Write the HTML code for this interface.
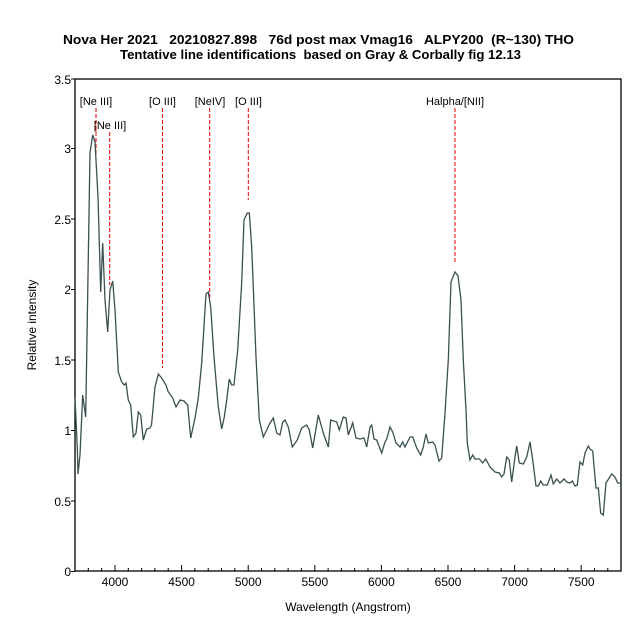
<!DOCTYPE html>
<html><head><meta charset="utf-8"><style>
html,body{margin:0;padding:0;background:#fff;}
svg{display:block;font-family:"Liberation Sans",sans-serif;}
.t{white-space:pre;}
</style></head><body>
<svg width="640" height="640" viewBox="0 0 640 640" xmlns="http://www.w3.org/2000/svg">
<rect width="640" height="640" fill="#fff"/>
<text class="t" xml:space="preserve" x="63" y="44" font-size="13" font-weight="bold" textLength="511" lengthAdjust="spacingAndGlyphs">Nova Her 2021   20210827.898   76d post max Vmag16   ALPY200  (R~130) THO</text>
<text class="t" xml:space="preserve" x="120" y="59" font-size="13" font-weight="bold" textLength="401" lengthAdjust="spacingAndGlyphs">Tentative line identifications  based on Gray &amp; Corbally fig 12.13</text>
<rect x="75" y="79" width="546" height="492" fill="none" stroke="#000" stroke-width="1.3"/>
<g stroke="#000" stroke-width="1">
<path d="M75 571.5h-4M75 501h-4M75 430.5h-4M75 360h-4M75 289.5h-4M75 219h-4M75 148.5h-4M75 79h-4"/>
<path d="M115 571v-6M181.6 571v-6M248.2 571v-6M314.8 571v-6M381.4 571v-6M448 571v-6M514.6 571v-6M581.2 571v-6"/>
<path d="M88.3 571v-3M101.6 571v-3M128.3 571v-3M141.6 571v-3M154.9 571v-3M168.2 571v-3M194.9 571v-3M208.2 571v-3M221.5 571v-3M234.8 571v-3M261.5 571v-3M274.8 571v-3M288.1 571v-3M301.4 571v-3M328.1 571v-3M341.4 571v-3M354.7 571v-3M368 571v-3M394.7 571v-3M408 571v-3M421.3 571v-3M434.6 571v-3M461.3 571v-3M474.6 571v-3M487.9 571v-3M501.2 571v-3M527.9 571v-3M541.2 571v-3M554.5 571v-3M567.8 571v-3M594.5 571v-3M607.8 571v-3"/>
</g>
<g font-size="12" text-anchor="end" fill="#000">
<text x="71" y="576">0</text><text x="71" y="506">0.5</text><text x="71" y="435">1</text><text x="71" y="365">1.5</text><text x="71" y="294">2</text><text x="71" y="224">2.5</text><text x="71" y="153">3</text><text x="71" y="84">3.5</text>
</g>
<g font-size="12" text-anchor="middle" fill="#000">
<text x="115" y="586">4000</text><text x="181.6" y="586">4500</text><text x="248.2" y="586">5000</text><text x="314.8" y="586">5500</text><text x="381.4" y="586">6000</text><text x="448" y="586">6500</text><text x="514.6" y="586">7000</text><text x="581.2" y="586">7500</text>
<text x="348" y="611">Wavelength (Angstrom)</text>
</g>
<text transform="translate(36 325) rotate(-90)" font-size="12" text-anchor="middle">Relative intensity</text>
<g stroke="#e00" stroke-width="1" stroke-dasharray="4,2" fill="none">
<path d="M96 108V160M109.7 132V285M162.5 108V368M209.7 108V298M248.3 108V200M455 108V262"/>
</g>
<g font-size="11" text-anchor="middle" fill="#000">
<text x="96" y="105">[Ne III]</text><text x="110" y="129">[Ne III]</text><text x="162.5" y="105">[O III]</text><text x="210" y="105">[NeIV]</text><text x="248.5" y="105">[O III]</text><text x="455" y="105">Halpha/[NII]</text>
</g>
<polyline fill="none" stroke="#3a5050" stroke-width="1.3" points="75,398 77.3,448 78,474 80,455 82.7,395 85.7,417 90,153 92.7,135 95,142 98,197 100.7,292 102.7,243 105,300 107.7,332 110,290 112.7,281 115,310 118.3,372 121.7,382 124.3,385 126,383 128.3,400 130.7,405 133.3,437 136,433 138.3,412 140.7,415 143.3,440 146.7,429 150,428 151.5,425 155,387 158.3,374 161.7,378 166,385 168.3,392 172.7,398 176,407 180,400 184,401 187.7,405 190.7,438 195,418 198.3,398 201.7,363 206,294 208.3,292 210.7,307 214,357 218.3,407 221.7,429 224.3,417 226.7,400 229.3,379 231.7,385 234,385 237.7,350 241.7,283 244,220 247.3,213 249.3,213 251.7,247 256,357 259.3,420 263.3,437 266.7,430 270,423 273.3,418 276.7,433 280,435 282.7,422 285,420 288.3,427 292.3,447 297.3,440 301.7,428 306.7,425 309.3,430 312.7,448 318.3,415 323.3,433 328.3,447 330.7,420 336.7,422 339.3,430 343.3,417 346,418 348.3,435 352.7,423 356,438 360,439 364,438 366.7,447 370,427 371.7,425 374,439 376.7,440 381.7,453 385,442 386.7,439 390,427 392.7,432 396,443 400,447 402.7,442 405,447 410,437 412.7,437 416.7,448 420.7,455 423.3,447 426,434 428.3,443 432.7,442 435,445 439,461 441.7,458 445,413 448.3,360 451,282 455,272 458,276 461,300 463.3,360 466,410 467.3,443 470,460 472.7,455 475,459 479.3,459 482.7,463 485.7,459 490,467 495,472 499.3,473 501.7,477 504,474 506.7,457 509.3,460 511.7,482 515,457 516.7,446 519.3,463 523.3,464 526.7,457 530,442 532.7,460 536,486 538.3,486 540.7,481 543.3,485 547.3,485 551,475 553.3,484 556.7,479 560,483 564,479 566.7,482 570,483 572.3,481 575,486 577.3,485 580,462 582.7,465 585,453 588.3,446 590,449 592.7,451 596,488 598.3,488 600.7,513 603.3,515 606,483 611.7,474 615,477 617.7,483 620.7,483"/>
</svg>
</body></html>
